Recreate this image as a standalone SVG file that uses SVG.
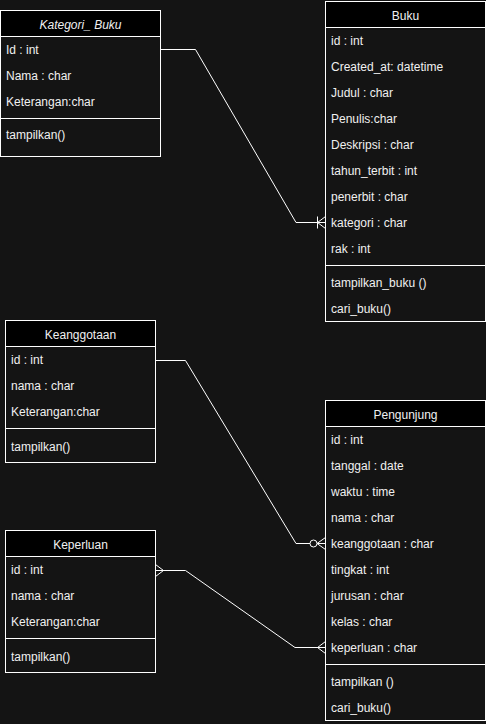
<svg xmlns="http://www.w3.org/2000/svg" width="486" height="724" viewBox="0 0 486 724">
  <style>
    .box { fill: #141414; stroke: #ffffff; stroke-width: 1; }
    .head { fill: #000000; stroke: #ffffff; stroke-width: 1; }
    .sep { stroke: #ffffff; stroke-width: 1; }
    .t { font-family: "Liberation Sans", Arial, sans-serif; font-size: 12px; fill: #f0f0f0; dominant-baseline: central; transform: translateY(1px); }
    .title { text-anchor: middle; }
    .it { font-style: italic; }
    .conn { fill: none; stroke: #ffffff; stroke-width: 1; }
  </style>
  <rect width="486" height="724" fill="#141414"/>

  <!-- Kategori_ Buku -->
  <g id="kategori-buku">
    <rect class="box" x="0.5" y="10.5" width="160" height="146"/>
    <rect class="head" x="0.5" y="10.5" width="160" height="26"/>
    <text class="t title it" x="80.5" y="23.5">Kategori_ Buku</text>
    <text class="t" x="6" y="49">Id : int</text>
    <text class="t" x="6" y="75">Nama : char</text>
    <text class="t" x="6" y="101">Keterangan:char</text>
    <line class="sep" x1="0.5" y1="118.5" x2="160.5" y2="118.5"/>
    <text class="t" x="6" y="134">tampilkan()</text>
  </g>

  <!-- Buku -->
  <g id="buku">
    <rect class="box" x="325.5" y="1.5" width="160" height="320"/>
    <rect class="head" x="325.5" y="1.5" width="160" height="26"/>
    <text class="t title" x="405.5" y="14.5">Buku</text>
    <text class="t" x="331" y="40">id : int</text>
    <text class="t" x="331" y="66">Created_at: datetime</text>
    <text class="t" x="331" y="92">Judul : char</text>
    <text class="t" x="331" y="118">Penulis:char</text>
    <text class="t" x="331" y="144">Deskripsi : char</text>
    <text class="t" x="331" y="170">tahun_terbit : int</text>
    <text class="t" x="331" y="196">penerbit : char</text>
    <text class="t" x="331" y="222">kategori : char</text>
    <text class="t" x="331" y="248">rak : int</text>
    <line class="sep" x1="325.5" y1="265.5" x2="485.5" y2="265.5"/>
    <text class="t" x="331" y="282">tampilkan_buku ()</text>
    <text class="t" x="331" y="308">cari_buku()</text>
  </g>

  <!-- Keanggotaan -->
  <g id="keanggotaan">
    <rect class="box" x="5.5" y="320.5" width="150" height="142"/>
    <rect class="head" x="5.5" y="320.5" width="150" height="26"/>
    <text class="t title" x="80.5" y="333.5">Keanggotaan</text>
    <text class="t" x="11" y="359">id : int</text>
    <text class="t" x="11" y="385">nama : char</text>
    <text class="t" x="11" y="411">Keterangan:char</text>
    <line class="sep" x1="5.5" y1="428.5" x2="155.5" y2="428.5"/>
    <text class="t" x="11" y="446">tampilkan()</text>
  </g>

  <!-- Pengunjung -->
  <g id="pengunjung">
    <rect class="box" x="325.5" y="400.5" width="160" height="320"/>
    <rect class="head" x="325.5" y="400.5" width="160" height="26"/>
    <text class="t title" x="405.5" y="413.5">Pengunjung</text>
    <text class="t" x="331" y="439">id : int</text>
    <text class="t" x="331" y="465">tanggal : date</text>
    <text class="t" x="331" y="491">waktu : time</text>
    <text class="t" x="331" y="517">nama : char</text>
    <text class="t" x="331" y="543">keanggotaan : char</text>
    <text class="t" x="331" y="569">tingkat : int</text>
    <text class="t" x="331" y="595">jurusan : char</text>
    <text class="t" x="331" y="621">kelas : char</text>
    <text class="t" x="331" y="647">keperluan : char</text>
    <line class="sep" x1="325.5" y1="664.5" x2="485.5" y2="664.5"/>
    <text class="t" x="331" y="681">tampilkan ()</text>
    <text class="t" x="331" y="707">cari_buku()</text>
  </g>

  <!-- Keperluan -->
  <g id="keperluan">
    <rect class="box" x="5.5" y="530.5" width="150" height="142"/>
    <rect class="head" x="5.5" y="530.5" width="150" height="26"/>
    <text class="t title" x="80.5" y="543.5">Keperluan</text>
    <text class="t" x="11" y="569">id : int</text>
    <text class="t" x="11" y="595">nama : char</text>
    <text class="t" x="11" y="621">Keterangan:char</text>
    <line class="sep" x1="5.5" y1="638.5" x2="155.5" y2="638.5"/>
    <text class="t" x="11" y="656">tampilkan()</text>
  </g>

  <!-- relationships -->
  <g id="connectors">
    <!-- Kategori_ Buku one-to-many Buku.kategori -->
    <path class="conn" d="M160.5,49.5 H195.5 L296,222.5 H325.5"/>
    <path class="conn" d="M317.5,216.5 V228.5 M317.5,222.5 L325.5,216.5 M317.5,222.5 L325.5,228.5"/>
    <!-- Keanggotaan zero-or-many Pengunjung.keanggotaan -->
    <path class="conn" d="M155.5,360.5 H185.5 L296,543.5 H310"/>
    <circle class="conn" cx="313.5" cy="543.5" r="3.5"/>
    <path class="conn" d="M317,543.5 H325.5 M317,543.5 L325.5,537.5 M317,543.5 L325.5,549.5"/>
    <!-- Keperluan many-to-many Pengunjung.keperluan -->
    <path class="conn" d="M155.5,570.5 H185.5 L295,647.5 H325.5"/>
    <path class="conn" d="M155.5,564.5 L163.5,570.5 L155.5,576.5"/>
    <path class="conn" d="M325.5,641.5 L317.5,647.5 L325.5,653.5"/>
  </g>
</svg>
